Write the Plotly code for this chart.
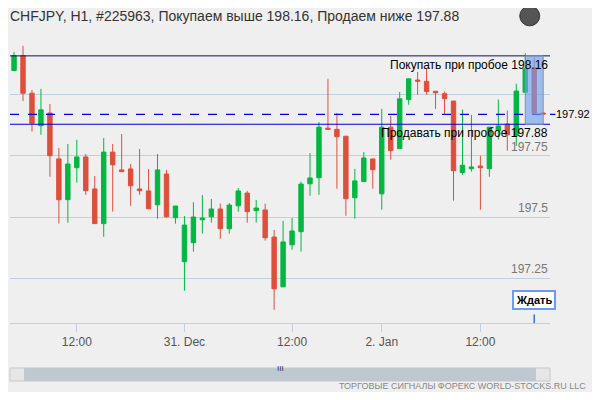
import plotly.graph_objects as go

opens  = [198.100,198.161,198.007,197.874,197.926,197.738,197.571,197.702,197.746,197.615,
          197.473,197.766,197.693,197.697,197.615,197.607,197.550,197.676,197.497,197.317,
          197.395,197.489,197.501,197.533,197.452,197.546,197.598,197.526,197.529,197.418,
          197.214,197.386,197.440,197.636,197.661,197.864,197.859,197.831,197.579,197.645,
          197.738,197.595,197.868,197.780,197.981,198.061,198.056,198.015,198.005,197.975,
          197.682,197.698,197.709,197.698,197.854,197.881,197.833,198.011,198.111,197.926]
closes = [198.161,198.007,197.884,197.939,197.751,197.571,197.717,197.746,197.608,197.473,
          197.766,197.714,197.686,197.628,197.608,197.534,197.693,197.501,197.545,197.467,
          197.500,197.496,197.533,197.452,197.549,197.607,197.522,197.537,197.415,197.206,
          197.398,197.443,197.635,197.660,197.868,197.859,197.829,197.575,197.648,197.742,
          197.694,197.868,197.772,197.984,198.066,198.056,198.014,198.009,197.985,197.690,
          197.712,197.705,197.702,197.868,197.873,197.837,198.016,198.107,197.925,197.922]
highs  = [198.176,198.201,198.020,198.025,197.963,197.783,197.799,197.816,197.758,197.668,
          197.824,197.799,197.840,197.717,197.779,197.697,197.758,197.693,197.545,197.504,
          197.561,197.590,197.574,197.555,197.557,197.619,197.607,197.570,197.555,197.447,
          197.484,197.496,197.645,197.762,197.889,198.066,197.926,197.831,197.697,197.766,
          197.738,197.943,197.914,198.012,198.066,198.094,198.107,198.015,198.014,197.975,
          197.940,197.918,197.751,197.868,197.981,197.936,198.046,198.171,198.153,197.930]
lows   = [198.100,197.975,197.850,197.837,197.665,197.473,197.477,197.641,197.591,197.473,
          197.419,197.522,197.686,197.546,197.591,197.534,197.493,197.497,197.473,197.198,
          197.358,197.432,197.477,197.411,197.432,197.522,197.477,197.477,197.403,197.120,
          197.214,197.366,197.358,197.587,197.591,197.859,197.616,197.505,197.493,197.645,
          197.616,197.530,197.735,197.780,197.960,198.001,198.001,197.943,197.922,197.567,
          197.673,197.686,197.530,197.665,197.818,197.772,197.791,198.011,197.925,197.918]
idx = list(range(len(opens)))

tick_pos = [7, 19, 31, 41, 52]
tick_text = ["12:00", "31. Dec", "12:00", "2. Jan", "12:00"]
grid_vals = [197.25, 197.5, 197.75, 198.0]
grid_labels = ["197.25", "197.5", "197.75", ""]
buy_level = 198.16
sell_level = 197.88
last_price = 197.92

fig = go.Figure(go.Candlestick(
    x=idx, open=opens, high=highs, low=lows, close=closes,
    increasing=dict(line=dict(color="#00b840", width=1), fillcolor="#00b840"),
    decreasing=dict(line=dict(color="#dd4f3c", width=1), fillcolor="#dd4f3c"),
    whiskerwidth=0, showlegend=False, hoverinfo="skip"))

shapes = []
shapes.append(dict(type="line", xref="paper", x0=0, x1=1, y0=buy_level, y1=buy_level,
                   line=dict(color="#101060", width=1)))
shapes.append(dict(type="line", xref="paper", x0=0, x1=1, y0=sell_level, y1=sell_level,
                   line=dict(color="#0000dd", width=1.2)))
shapes.append(dict(type="line", xref="paper", x0=0, x1=1.01, y0=last_price, y1=last_price,
                   line=dict(color="#0000ee", width=1.2, dash="dash")))
shapes.append(dict(type="rect", x0=57, x1=59, y0=sell_level, y1=buy_level,
                   fillcolor="rgba(110,160,240,0.65)", line=dict(color="#8090a8", width=1), layer="above"))
# scrollbar
shapes.append(dict(type="rect", xref="paper", yref="paper", x0=0, x1=1, y0=-0.205, y1=-0.159,
                   fillcolor="#e6e6e6", line=dict(color="#c8c8c8", width=1)))
shapes.append(dict(type="rect", xref="paper", yref="paper", x0=0.026, x1=0.974, y0=-0.205, y1=-0.159,
                   fillcolor="#bfc7d0", line=dict(width=0)))
# wait marker line
shapes.append(dict(type="line", x0=58, x1=58, yref="paper", y0=0, y1=0.03,
                   line=dict(color="#3070e0", width=1.5)))
# globe
shapes.append(dict(type="circle", xref="paper", yref="paper", x0=0.944, x1=0.981, y0=1.05, y1=1.12,
                   fillcolor="#555", line=dict(color="#333", width=1)))

ann = []
for v, t in zip(grid_vals, grid_labels):
    if t:
        ann.append(dict(x=1, xref="paper", y=v, text=t, showarrow=False, xanchor="right",
                        yanchor="bottom", font=dict(size=12, color="#777")))
ann.append(dict(x=1, xref="paper", y=buy_level, text="Покупать при пробое 198.16", showarrow=False,
                xanchor="right", yanchor="top", font=dict(size=12, color="#000")))
ann.append(dict(x=1, xref="paper", y=sell_level, text="Продавать при пробое 197.88", showarrow=False,
                xanchor="right", yanchor="top", font=dict(size=12, color="#000")))
ann.append(dict(x=1.008, xref="paper", y=last_price, text="197.92", showarrow=False,
                xanchor="left", yanchor="middle", font=dict(size=11, color="#000")))
ann.append(dict(x=58, y=0.045, yref="paper", text="<b>Ждать</b>", showarrow=False, xanchor="center",
                yanchor="bottom", bgcolor="#ffffff", bordercolor="#6b9cf0", borderwidth=2, borderpad=2,
                font=dict(size=11, color="#000")))
ann.append(dict(x=-0.004, xref="paper", y=1.085, yref="paper",
                text="CHFJPY, H1, #225963, Покупаем выше 198.16, Продаем ниже 197.88",
                showarrow=False, xanchor="left", yanchor="middle", font=dict(size=14, color="#333")))
ann.append(dict(x=0.5, xref="paper", y=-0.182, yref="paper", text="III", showarrow=False,
                font=dict(size=8, color="#333")))
ann.append(dict(x=1.07, xref="paper", y=-0.224, yref="paper",
                text="ТОРГОВЫЕ СИГНАЛЫ ФОРЕКС WORLD-STOCKS.RU LLC", showarrow=False,
                xanchor="right", yanchor="middle", font=dict(size=9, color="#888")))

fig.update_layout(
    width=584, height=384, margin=dict(l=2, r=42, t=32, b=69, autoexpand=False),
    paper_bgcolor="#efefef", plot_bgcolor="#efefef",
    font=dict(family="Liberation Sans, Arial, sans-serif"),
    shapes=shapes, annotations=ann,
    xaxis=dict(range=[-0.45, 59.76], tickvals=tick_pos, ticktext=tick_text, showgrid=False,
               ticks="outside", ticklen=8, tickcolor="#c0d0e0", showline=True, linecolor="#c0d0e0",
               rangeslider=dict(visible=False), tickfont=dict(size=12, color="#555"), zeroline=False),
    yaxis=dict(range=[197.066, 198.225], tickvals=grid_vals, showticklabels=False,
               gridcolor="#c0d0e0", gridwidth=1, zeroline=False),
)
fig.write_html("out.html")
